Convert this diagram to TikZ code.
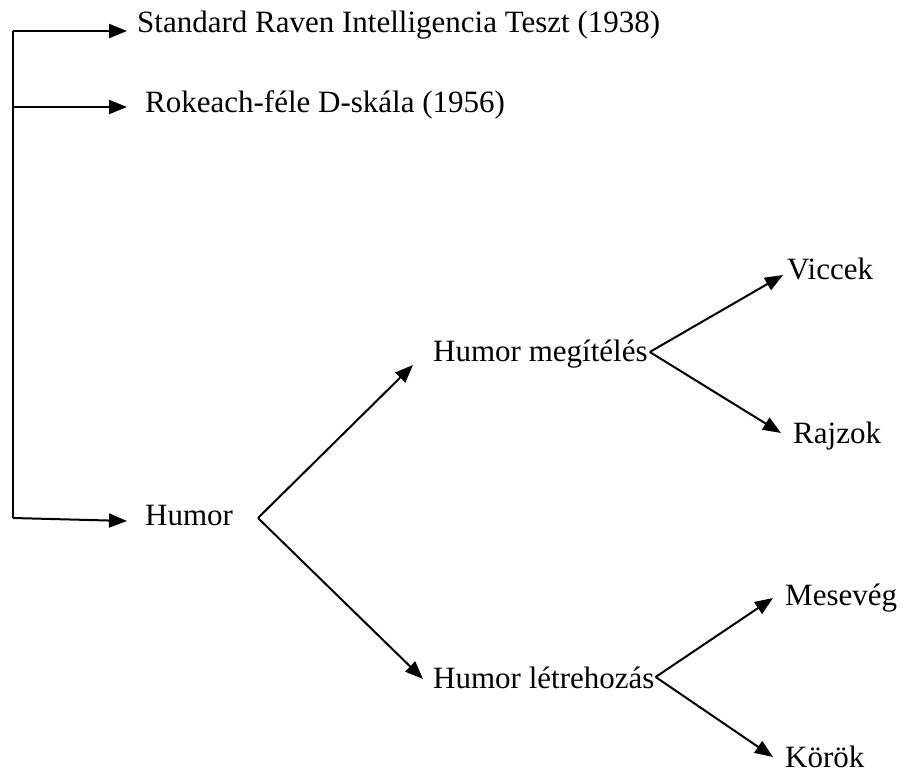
\documentclass[tikz,border=0pt]{standalone}
\usepackage{fontspec}
\setmainfont{Liberation Serif}
\usetikzlibrary{arrows.meta}
\begin{document}
\begin{tikzpicture}[x=1pt,y=-1pt,
  lbl/.style={anchor=base west,inner sep=0pt,font=\fontsize{31}{37}\selectfont},
  conn/.style={line width=2pt,line cap=butt},
  arr/.style={conn,-{Triangle[length=18pt,width=14pt]}}]
\useasboundingbox (0,0) rectangle (906,778);
% labels
\node[lbl] (std) at (137,33) {Standard Raven Intelligencia Teszt (1938)};
\node[lbl] (rok) at (145,113) {Rokeach-féle D-skála (1956)};
\node[lbl] (hum) at (145,525) {Humor};
\node[lbl] (meg) at (433,362) {Humor megítélés};
\node[lbl] (let) at (433,688) {Humor létrehozás};
\node[lbl] (vic) at (787,280) {Viccek};
\node[lbl] (raj) at (793,443) {Rajzok};
\node[lbl] (mes) at (785,605) {Mesevég};
\node[lbl] (kor) at (785,767) {Körök};
% bracket
\coordinate (c1) at (13,31);
\coordinate (c2) at (13,107);
\coordinate (c3) at (13,518);
\coordinate (t1) at (127,31);
\coordinate (t2) at (127,107);
\coordinate (t3) at (127,521);
\draw[conn] (c1) -- (c3);
\draw[arr] (c1) -- (t1);
\draw[arr] (c2) -- (t2);
\draw[arr] (c3) -- (t3);
% forks
\coordinate (v1) at (258,518);
\coordinate (tm) at (413,365);
\coordinate (tl) at (423,679);
\draw[arr] (v1) -- (tm);
\draw[arr] (v1) -- (tl);
\coordinate (v2) at ([xshift=2pt]meg.east |- 0,352);
\coordinate (tv) at (783,275);
\coordinate (tr) at (781,433);
\draw[arr] (v2) -- (tv);
\draw[arr] (v2) -- (tr);
\coordinate (v3) at ([xshift=1pt]let.east |- 0,677);
\coordinate (tme) at (773,598);
\coordinate (tk) at (773,757);
\draw[arr] (v3) -- (tme);
\draw[arr] (v3) -- (tk);
\end{tikzpicture}
\end{document}
